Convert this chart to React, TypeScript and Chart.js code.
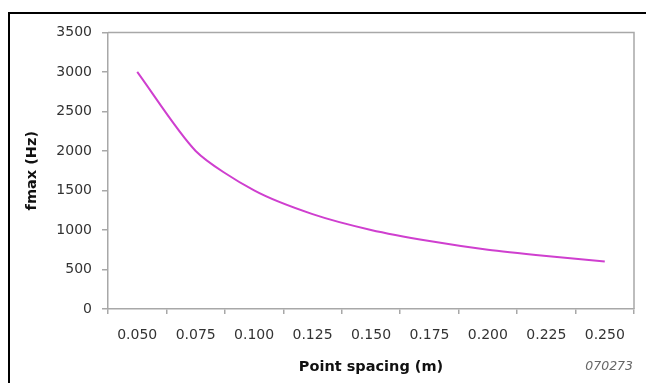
import React, { useEffect, useRef } from "react";
import { Chart, registerables } from "chart.js";

Chart.register(...registerables);

const categories = ["0.050", "0.075", "0.100", "0.125", "0.150", "0.175", "0.200", "0.225", "0.250"];
const fmaxValues = [3000, 2000, 1500, 1200, 1000, 860, 750, 670, 600];
const yTicks = [0, 500, 1000, 1500, 2000, 2500, 3000, 3500];
const xTitle = "Point spacing (m)";
const yTitle = "fmax (Hz)";
const figureCode = "070273";

const FONT = "'DejaVu Sans', Arial, sans-serif";

export default function App() {
  const ref = useRef<HTMLCanvasElement | null>(null);

  useEffect(() => {
    document.documentElement.style.overflow = "hidden";
    document.body.style.overflow = "hidden";
    if (!ref.current) return;
    const framePlugin = {
      id: "frame",
      afterDraw(chart: any) {
        const { ctx, chartArea } = chart;
        ctx.save();
        ctx.strokeStyle = "#a8a8a8";
        ctx.lineWidth = 1.5;
        ctx.beginPath();
        ctx.moveTo(chartArea.left, chartArea.top);
        ctx.lineTo(chartArea.right, chartArea.top);
        ctx.lineTo(chartArea.right, chartArea.bottom);
        ctx.stroke();
        ctx.font = `italic 12.5px ${FONT}`;
        ctx.fillStyle = "#666";
        ctx.textAlign = "right";
        ctx.textBaseline = "middle";
        ctx.fillText(figureCode, chartArea.right - 1, 353);
        ctx.restore();
      },
    };
    const chart = new Chart(ref.current, {
      type: "line",
      data: {
        labels: categories,
        datasets: [
          {
            data: fmaxValues,
            borderColor: "#cf3fcf",
            borderWidth: 2,
            pointRadius: 0,
            tension: 0.25,
            fill: false,
          },
        ],
      },
      options: {
        animation: false,
        responsive: false,
        layout: { padding: { top: 18, right: 12, left: 0, bottom: 0 } },
        plugins: { legend: { display: false }, tooltip: { enabled: false } },
        scales: {
          x: {
            type: "category",
            offset: true,
            grid: {
              offset: true,
              drawOnChartArea: false,
              drawTicks: true,
              tickLength: 5,
              color: "#a8a8a8",
              lineWidth: 1.5,
            },
            border: { color: "#a8a8a8", width: 1.5 },
            ticks: {
              color: "#333",
              font: { family: FONT, size: 14 },
              padding: 13,
              maxRotation: 0,
              autoSkip: false,
            },
            title: {
              display: true,
              text: xTitle,
              color: "#111",
              font: { family: FONT, size: 14.5, weight: "bold" },
              padding: { top: 4, bottom: 7 },
            },
            afterFit(scale: any) {
              scale.height = 74;
            },
          },
          y: {
            min: 0,
            max: 3500,
            afterBuildTicks(scale: any) {
              scale.ticks = yTicks.map((v) => ({ value: v }));
            },
            grid: {
              drawOnChartArea: false,
              drawTicks: true,
              tickLength: 6,
              color: "#a8a8a8",
              lineWidth: 1.5,
            },
            border: { color: "#a8a8a8", width: 1.5 },
            ticks: {
              color: "#333",
              font: { family: FONT, size: 14 },
              padding: 10,
              callback: (v: any) => String(v),
            },
            title: {
              display: true,
              text: yTitle,
              color: "#111",
              font: { family: FONT, size: 14.5, weight: "bold" },
              padding: { top: 14, bottom: 0 },
            },
            afterFit(scale: any) {
              scale.width = 98;
            },
          },
        },
      },
      plugins: [framePlugin],
    });
    return () => chart.destroy();
  }, []);

  return (
    <div
      style={{
        position: "fixed",
        left: 8,
        top: 12,
        width: 720,
        height: 440,
        boxSizing: "border-box",
        borderStyle: "solid",
        borderColor: "#000",
        borderWidth: "2px 0 0 2px",
        background: "#fff",
        overflow: "hidden",
      }}
    >
      <canvas ref={ref} width={636} height={369} style={{ display: "block" }} />
    </div>
  );
}
